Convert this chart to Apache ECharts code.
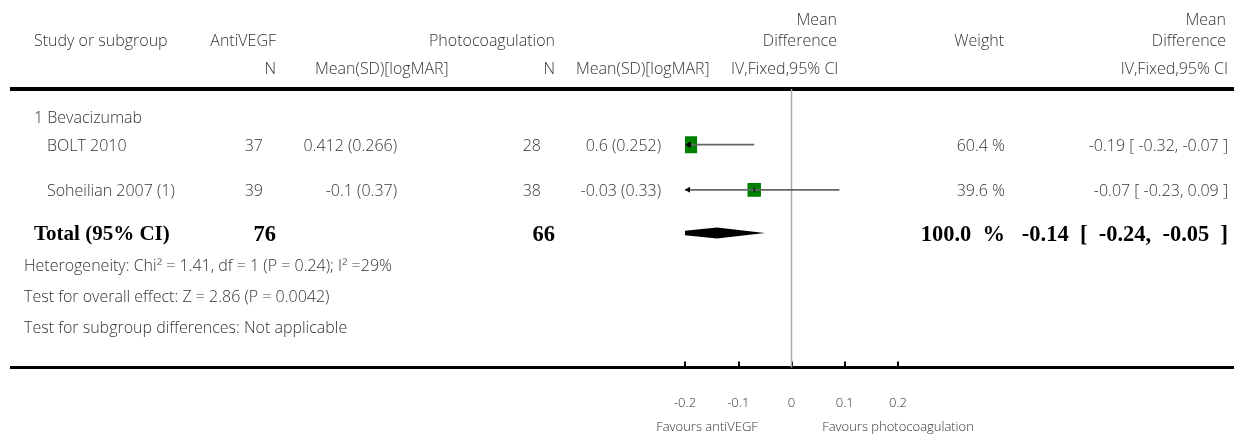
<!DOCTYPE html>
<html>
<head>
<meta charset="utf-8">
<script src="https://cdn.jsdelivr.net/npm/echarts@6/dist/echarts.min.js"></script>
<style>
  html, body { margin: 0; padding: 0; background: #fff; }
  #chart { width: 1234px; height: 434px; }
</style>
</head>
<body>
<div id="chart"></div>
<script>
// ---- data ----
const subgroupName = '1 Bevacizumab'
const studyNames = ['BOLT 2010', 'Soheilian 2007 (1)']
const antiN = [37, 39]
const antiMean = [0.412, -0.1]
const antiSD = [0.266, 0.37]
const photoN = [28, 38]
const photoMean = [0.6, -0.03]
const photoSD = [0.252, 0.33]
const weights = [60.4, 39.6]
const meanDiff = [-0.19, -0.07]
const ciLow = [-0.32, -0.23]
const ciHigh = [-0.07, 0.09]

const totalN = [76, 66]
const totalWeight = 100.0
const totalMD = -0.14
const totalLow = -0.24
const totalHigh = -0.05

const footNotes = [
  'Heterogeneity: Chi\u00b2 = 1.41, df = 1 (P = 0.24); I\u00b2 =29%',
  'Test for overall effect: Z = 2.86 (P = 0.0042)',
  'Test for subgroup differences: Not applicable'
]
const tickValues = [-0.2, -0.1, 0, 0.1, 0.2]
const favourLeft = 'Favours antiVEGF'
const favourRight = 'Favours photocoagulation'

// ---- layout ----
const AX_MIN = -0.2
const AX_MAX = 0.2
const FONT = '"Open Sans", Lato, sans-serif'
const SERIF = '"Liberation Serif", "DejaVu Serif", serif'
const TXT = '#333'
const FS = 16
// row positions on the (hidden) y axis, 0 = top rule, 10 = bottom rule
const ROW_GROUP = 1.06
const ROW_STUDY = [2.0, 3.62]
const ROW_TOTAL = 5.17
const ROW_FOOT = [6.36, 7.47, 8.58]

const fmt2 = v => v.toFixed(2)
const ciText = (m, l, h) => `${fmt2(m)} [ ${fmt2(l)}, ${fmt2(h)} ]`

const chart = echarts.init(document.getElementById('chart'))

const label = (x, y, text, align, extra) => ({
  type: 'text',
  x, y,
  silent: true,
  style: Object.assign({
    text,
    fill: TXT,
    font: `300 ${FS}px ${FONT}`,
    align: align || 'left',
    verticalAlign: 'middle'
  }, extra || {})
})

// table text, positioned vertically through the y axis
const renderTable = (params, api) => {
  const yOf = v => api.coord([0, v])[1]
  const kids = []
  kids.push(label(34, yOf(ROW_GROUP), subgroupName))
  studyNames.forEach((name, i) => {
    const y = yOf(ROW_STUDY[i]) + 1.5
    kids.push(label(47, y, name))
    kids.push(label(263, y, String(antiN[i]), 'right'))
    kids.push(label(397, y, `${antiMean[i]} (${antiSD[i]})`, 'right'))
    kids.push(label(541, y, String(photoN[i]), 'right'))
    kids.push(label(661, y, `${photoMean[i]} (${photoSD[i]})`, 'right'))
    kids.push(label(1005, y, `${weights[i].toFixed(1)} %`, 'right'))
    kids.push(label(1228, y, ciText(meanDiff[i], ciLow[i], ciHigh[i]), 'right'))
  })
  const yt = yOf(ROW_TOTAL) + 2
  const bold = { font: `bold 21px ${SERIF}`, fill: '#000' }
  const boldNum = { font: `bold 22.5px ${SERIF}`, fill: '#000' }
  kids.push(label(34, yt, 'Total (95% CI)', 'left', bold))
  kids.push(label(276, yt, String(totalN[0]), 'right', boldNum))
  kids.push(label(555, yt, String(totalN[1]), 'right', boldNum))
  kids.push(label(1005, yt, `${totalWeight.toFixed(1)}  %`, 'right', boldNum))
  kids.push(label(1228, yt, ciText(totalMD, totalLow, totalHigh).replace(/ /g, '  '), 'right', boldNum))
  footNotes.forEach((t, i) => kids.push(label(24, yOf(ROW_FOOT[i]), t)))
  return { type: 'group', children: kids }
}

// squares, CI lines, clip arrows and the pooled diamond
const renderForest = (params, api) => {
  const i = params.dataIndex
  const xOf = v => api.coord([v, 0])[0]
  const yOf = v => api.coord([0, v])[1]
  const kids = []
  if (i < studyNames.length) {
    const y = yOf(ROW_STUDY[i])
    const xm = xOf(meanDiff[i])
    const xl = xOf(Math.max(ciLow[i], AX_MIN))
    const xh = xOf(Math.min(ciHigh[i], AX_MAX))
    const h = 2.19 * Math.sqrt(weights[i])
    const w = 13.5
    kids.push({ type: 'rect', shape: { x: xm - w / 2, y: y - h / 2, width: w, height: h }, style: { fill: '#008000' } })
    kids.push({ type: 'line', shape: { x1: xl, y1: y, x2: xh, y2: y }, style: { stroke: '#666', lineWidth: 1.7 } })
    kids.push({ type: 'line', shape: { x1: xm, y1: y - 2.5, x2: xm, y2: y + 2.5 }, style: { stroke: '#000', lineWidth: 1 } })
    if (ciLow[i] < AX_MIN) {
      kids.push({ type: 'polygon', shape: { points: [[xl, y], [xl + 5, y - 3], [xl + 5, y + 3]] }, style: { fill: '#000' } })
    }
    if (ciHigh[i] > AX_MAX) {
      kids.push({ type: 'polygon', shape: { points: [[xh, y], [xh - 5, y - 3], [xh - 5, y + 3]] }, style: { fill: '#000' } })
    }
  } else {
    const y = yOf(ROW_TOTAL)
    const hh = 5.5
    kids.push({
      type: 'polygon',
      shape: { points: [[xOf(totalLow), y], [xOf(totalMD), y - hh], [xOf(totalHigh), y], [xOf(totalMD), y + hh]] },
      style: { fill: '#000' }
    })
  }
  return { type: 'group', children: kids }
}

const forestData = meanDiff.map((m, i) => [m, ROW_STUDY[i]]).concat([[totalMD, ROW_TOTAL]])

const hdr = (x, y, text, align) => label(x, y, text, align)

const option = {
  animation: false,
  grid: { left: 685, right: 336, top: 89, bottom: 66.5 },
  xAxis: {
    type: 'value',
    min: AX_MIN,
    max: AX_MAX,
    interval: 0.1,
    axisLine: { show: false, onZero: false },
    axisTick: { show: true, inside: true, length: 6, lineStyle: { color: '#000', width: 2 } },
    axisLabel: {
      margin: 29,
      color: TXT,
      fontSize: 13,
      fontWeight: 300,
      fontFamily: FONT,
      customValues: tickValues,
      formatter: v => String(Math.round(v * 10) / 10)
    },
    splitLine: { show: false }
  },
  yAxis: { type: 'value', inverse: true, min: 0, max: 10, show: false },
  graphic: [
    hdr(34, 41, 'Study or subgroup'),
    hdr(276, 41, 'AntiVEGF', 'right'),
    hdr(555, 41, 'Photocoagulation', 'right'),
    hdr(837, 20, 'Mean', 'right'),
    hdr(837, 41, 'Difference', 'right'),
    hdr(1004, 41, 'Weight', 'right'),
    hdr(1226, 20, 'Mean', 'right'),
    hdr(1226, 41, 'Difference', 'right'),
    hdr(276, 69, 'N', 'right'),
    hdr(315, 69, 'Mean(SD)[logMAR]'),
    hdr(555, 69, 'N', 'right'),
    hdr(576, 69, 'Mean(SD)[logMAR]'),
    hdr(731, 69, 'IV,Fixed,95% CI'),
    hdr(1228, 69, 'IV,Fixed,95% CI', 'right'),
    { type: 'line', silent: true, shape: { x1: 10, y1: 89, x2: 1234, y2: 89 }, style: { stroke: '#000', lineWidth: 4 } },
    { type: 'line', silent: true, shape: { x1: 10, y1: 367.5, x2: 1234, y2: 367.5 }, style: { stroke: '#000', lineWidth: 3 } },
    label(707, 427, favourLeft, 'center', { font: `300 13px ${FONT}` }),
    label(898, 427, favourRight, 'center', { font: `300 13px ${FONT}` })
  ],
  series: [
    {
      name: 'null line',
      type: 'line',
      data: [[0, 0], [0, 10]],
      symbol: 'none',
      silent: true,
      lineStyle: { color: '#aaa', width: 1.5 },
      z: 1
    },
    {
      name: 'forest',
      type: 'custom',
      clip: true,
      data: forestData,
      encode: { x: 0, y: 1 },
      renderItem: renderForest,
      z: 3
    },
    {
      name: 'table',
      type: 'custom',
      clip: false,
      data: [[0, 0]],
      encode: { x: 0, y: 1 },
      renderItem: renderTable,
      z: 3
    }
  ]
}

chart.setOption(option)
window.addEventListener('resize', () => chart.resize())
</script>
</body>
</html>
